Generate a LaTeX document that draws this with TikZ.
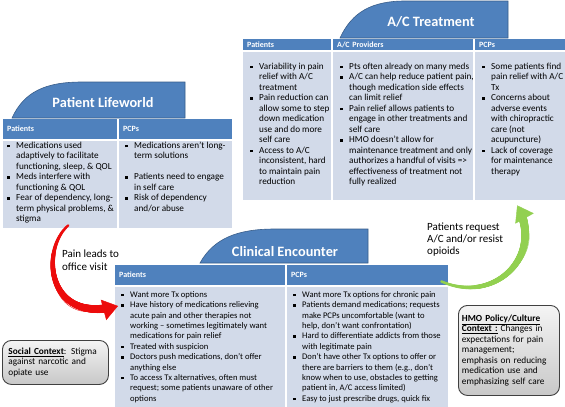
\documentclass[tikz,border=0pt]{standalone}
\usepackage{fontspec}
\setmainfont{Carlito}
\usepackage{tikz}
\usetikzlibrary{calc}
\usetikzlibrary{positioning}
\usetikzlibrary{arrows.meta}
\usetikzlibrary{decorations.markings}
\definecolor{tabblue}{RGB}{79,129,189}
\definecolor{tabedge}{RGB}{56,93,138}
\definecolor{cellblue}{RGB}{210,218,233}
\definecolor{boxtop}{RGB}{244,244,244}
\definecolor{boxbot}{RGB}{200,200,200}
\definecolor{boxedge}{RGB}{64,64,64}
\definecolor{painred}{RGB}{236,12,12}
\definecolor{reqgreen}{RGB}{146,208,80}
\tikzstyle{tabshape} = [fill=tabblue, draw=tabedge, line width=0.6pt]
\tikzstyle{tabtitle} = [text=white, font=\bfseries\fontsize{14.3}{16}\selectfont, inner sep=0pt]
\tikzstyle{headcell} = [fill=tabblue, anchor=north west, inner xsep=4pt, inner ysep=0pt, text=white, font=\bfseries\fontsize{8}{9}\selectfont, align=left]
\tikzstyle{bodycell} = [fill=cellblue, anchor=north west, inner sep=0pt]
\tikzstyle{bodytext} = [anchor=north west, inner sep=0pt, align=left, font=\fontsize{9.2}{10.5}\selectfont]
\tikzstyle{ctxbox} = [draw=boxedge, line width=0.9pt, rounded corners=9pt, top color=boxtop, bottom color=boxbot, anchor=north west, align=left, inner sep=0pt, font=\fontsize{9.3}{10.5}\selectfont]
\tikzstyle{flowlabel} = [anchor=north west, inner sep=0pt, align=left]
\tikzstyle{flowarrow} = [line width=0.4pt, -{Triangle[length=15pt, width=21pt]}]
\tikzset{taper/.style={postaction={decorate}, decoration={markings,
  mark=between positions 0 and -12pt step 0.4pt with {\fill[#1] (0,0) circle ({1.2pt+3.3pt*\pgfkeysvalueof{/pgf/decoration/mark info/distance from start}/\pgfdecoratedpathlength});}}}}
\newcommand{\bul}{\rule{0pt}{7.2pt}\makebox[9pt][l]{\raisebox{1pt}{\rule{2.5pt}{2.5pt}}}}
\newcommand{\ind}{\rule{0pt}{7.2pt}\hspace*{9pt}}

\begin{document}
\begin{tikzpicture}[x=1pt, y=-1pt]
  \useasboundingbox[fill=white] (0,0) rectangle (565,407);

  % tabs
  \draw[tabshape] (12,118) .. controls (24,92) and (45,82) .. (82,82) -- (185,82) -- (185,118) -- cycle;
  \draw[tabshape] (340,38) .. controls (352,12) and (372,1) .. (405,1) -- (508,1) -- (508,38) -- cycle;
  \draw[tabshape] (200,263) .. controls (214,238) and (238,229) .. (275,229) -- (368,229) -- (368,263) -- cycle;
  \node[tabtitle] (lwtitle) at (103,103) {Patient Lifeworld};
  \node[tabtitle] (actitle) at (431,22) {A/C Treatment};
  \node[tabtitle] (cetitle) at (285,252) {Clinical Encounter};

  % Patient Lifeworld
  \node[headcell, text width=106pt, minimum height=20pt] (lwpathd) at (3,119) {Patients};
  \node[headcell, text width=105pt, minimum height=20pt] (lwpcphd) at (119,119) {PCPs};
  \node[bodycell, minimum width=114pt, minimum height=87pt] (lwpat) at (3,141) {};
  \node[bodycell, minimum width=113pt, minimum height=87pt] (lwpcp) at (119,141) {};
  \node[bodytext] (lwpattxt) at ([xshift=4pt]lwpat.north west) {\bul Medications used\\
    \ind adaptively to facilitate\\
    \ind functioning, sleep, \& QOL\\
    \bul Meds interfere with\\
    \ind functioning \& QOL\\
    \bul Fear of dependency, long-\\
    \ind term physical problems, \&\\
    \ind stigma};
  \node[bodytext] (lwpcptxt) at ([xshift=6pt]lwpcp.north west) {\bul Medications aren’t long-\\
    \ind term solutions\\
    \ind\\
    \bul Patients need to engage\\
    \ind in self care\\
    \bul Risk of dependency\\
    \ind and/or abuse};

  % A/C Treatment
  \node[headcell, text width=80pt, minimum height=11pt] (achd1) at (243,39) {Patients};
  \node[headcell, text width=132pt, minimum height=11pt] (achd2) at (333,39) {A/C Providers};
  \node[headcell, text width=82pt, minimum height=11pt] (achd3) at (475,39) {PCPs};
  \node[bodycell, minimum width=88pt, minimum height=148pt] (acpat) at (243,52) {};
  \node[bodycell, minimum width=140pt, minimum height=148pt] (acprov) at (333,52) {};
  \node[bodycell, minimum width=90pt, minimum height=148pt] (acpcp) at (475,52) {};
  \node[bodytext] (acpattxt) at ([xshift=7pt,yshift=-9.8pt]acpat.north west) {\bul Variability in pain\\
    \ind relief with A/C\\
    \ind treatment\\
    \bul Pain reduction can\\
    \ind allow some to step\\
    \ind down medication\\
    \ind use and do more\\
    \ind self care\\
    \bul Access to A/C\\
    \ind inconsistent, hard\\
    \ind to maintain pain\\
    \ind reduction};
  \node[bodytext] (acprovtxt) at ([xshift=7pt,yshift=-9.8pt]acprov.north west) {\bul Pts often already on many meds\\
    \bul A/C can help reduce patient pain,\\
    \ind though medication side effects\\
    \ind can limit relief\\
    \bul Pain relief allows patients to\\
    \ind engage in other treatments and\\
    \ind self care\\
    \bul HMO doesn’t allow for\\
    \ind maintenance treatment and only\\
    \ind authorizes a handful of visits =>\\
    \ind effectiveness of treatment not\\
    \ind fully realized};
  \node[bodytext] (acpcptxt) at ([xshift=7pt,yshift=-9.8pt]acpcp.north west) {\bul Some patients find\\
    \ind pain relief with A/C\\
    \ind Tx\\
    \bul Concerns about\\
    \ind adverse events\\
    \ind with chiropractic\\
    \ind care (not\\
    \ind acupuncture)\\
    \bul Lack of coverage\\
    \ind for maintenance\\
    \ind therapy};

  % Clinical Encounter
  \node[headcell, text width=162pt, minimum height=20pt] (cehd1) at (115,265) {Patients};
  \node[headcell, text width=153pt, minimum height=20pt] (cehd2) at (287,265) {PCPs};
  \node[bodycell, minimum width=170pt, minimum height=120pt] (cepat) at (115,287) {};
  \node[bodycell, minimum width=161pt, minimum height=120pt] (cepcp) at (287,287) {};
  \node[bodytext, font=\fontsize{8.6}{10.4}\selectfont] (cepattxt) at ([xshift=6pt,yshift=-2.8pt]cepat.north west) {\bul Want more Tx options\\
    \bul Have history of medications relieving\\
    \ind acute pain and other therapies not\\
    \ind working – sometimes legitimately want\\
    \ind medications for pain relief\\
    \bul Treated with suspicion\\
    \bul Doctors push medications, don’t offer\\
    \ind anything else\\
    \bul To access Tx alternatives, often must\\
    \ind request; some patients unaware of other\\
    \ind options};
  \node[bodytext, font=\fontsize{8.6}{10.4}\selectfont] (cepcptxt) at ([xshift=6pt,yshift=-2.8pt]cepcp.north west) {\bul Want more Tx options for chronic pain\\
    \bul Patients demand medications; requests\\
    \ind make PCPs uncomfortable (want to\\
    \ind help, don’t want confrontation)\\
    \bul Hard to differentiate addicts from those\\
    \ind with legitimate pain\\
    \bul Don’t have other Tx options to offer or\\
    \ind there are barriers to them (e.g., don’t\\
    \ind know when to use, obstacles to getting\\
    \ind patient in, A/C access limited)\\
    \bul Easy to just prescribe drugs, quick fix};

  % context boxes
  \node[ctxbox, text width=94pt, minimum width=106pt, minimum height=44pt] (socbox) at (2,340) {\underline{\textbf{Social Context}}: Stigma\\against narcotic and\\opiate use};
  \node[ctxbox, text width=94pt, minimum width=101pt, minimum height=90pt] (hmobox) at (458,305) {\underline{\textbf{HMO Policy/Culture}}\\\underline{\textbf{Context :}} Changes in\\expectations for pain\\management;\\emphasis on reducing\\medication use and\\emphasizing self care};

  % flows
  \draw[flowarrow, draw=painred, taper=painred] ([xshift=8pt,yshift=3pt]lwpat.south) .. controls (40,250) and (47,325) .. ([xshift=3pt,yshift=-19pt]cepat.north west);
  \draw[flowarrow, draw=reqgreen, taper=reqgreen] ([xshift=-7pt,yshift=4pt]cehd2.south east) .. controls (495,305) and (545,255) .. ([xshift=-3pt,yshift=-5pt]acpcp.south);
  \node[flowlabel, font=\fontsize{11}{13.5}\selectfont] (painlbl) at (62,249.5) {Pain leads to\\office visit};
  \node[flowlabel, font=\fontsize{11}{12.2}\selectfont] (reqlbl) at (427,222.5) {Patients request\\A/C and/or resist\\opioids};
\end{tikzpicture}
\end{document}
